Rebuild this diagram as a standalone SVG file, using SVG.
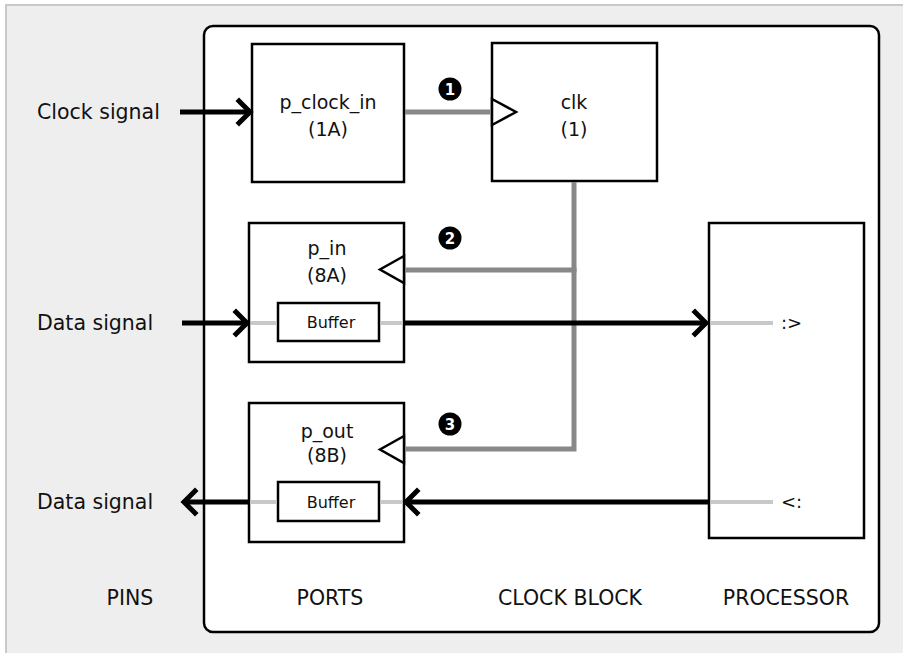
<svg xmlns="http://www.w3.org/2000/svg" width="903" height="653" viewBox="0 0 903 653">
<style>
  .lbl { font-family: "DejaVu Sans", Verdana, sans-serif; font-size: 20.5px; fill: #111; }
  .nl { font-family: "DejaVu Sans", Verdana, sans-serif; font-size: 19px; fill: #111; text-anchor: middle; }
  .buf { font-family: "DejaVu Sans", Verdana, sans-serif; font-size: 16px; fill: #111; text-anchor: middle; }
  .sm { font-family: "DejaVu Sans", Verdana, sans-serif; font-size: 18px; fill: #111; }
  .box { fill: #fff; stroke: #000; stroke-width: 2.5; }
  .clkin { fill: #fff; stroke: #000; stroke-width: 2.5; stroke-linejoin: miter; }
  .blk { stroke: #000; stroke-width: 5; fill: none; }
  .head { stroke: #000; stroke-width: 5; fill: none; stroke-linecap: square; stroke-linejoin: miter; }
  .gry { stroke: #888; stroke-width: 5; fill: none; }
  .lgry { stroke: #c8c8c8; stroke-width: 4; fill: none; }
  .badge { fill: #000; }
  .bn { font-family: "DejaVu Sans", Verdana, sans-serif; font-size: 15px; font-weight: bold; fill: #fff; text-anchor: middle; }
</style>
<rect x="6" y="5" width="1000" height="700" fill="#eeeeee" stroke="#c8c8c8" stroke-width="2"/>
<rect x="204" y="26" width="675" height="606" rx="9" ry="9" fill="#fff" stroke="#000" stroke-width="2.5"/>

<g id="pins">
  <text class="lbl" x="37" y="119">Clock signal</text>
  <text class="lbl" x="37" y="330">Data signal</text>
  <text class="lbl" x="37" y="509">Data signal</text>
</g>

<g id="p_clock_in">
  <rect class="box" x="252" y="44" width="152" height="138"/>
  <text class="nl" x="328" y="109">p_clock_in</text>
  <text class="nl" x="328" y="136">(1A)</text>
</g>

<g id="clk">
  <rect class="box" x="492" y="43" width="165" height="138"/>
  <polygon class="clkin" points="492,99 516,112 492,125"/>
  <text class="nl" x="574" y="109">clk</text>
  <text class="nl" x="574" y="136">(1)</text>
</g>

<g id="p_in">
  <rect class="box" x="249" y="223" width="155" height="139"/>
  <polygon class="clkin" points="404,256 380,269.5 404,283"/>
  <text class="nl" x="327" y="255">p_in</text>
  <text class="nl" x="327" y="282">(8A)</text>
  <rect class="box" x="278" y="303" width="101" height="38"/>
  <text class="buf" x="331" y="328">Buffer</text>
</g>

<g id="p_out">
  <rect class="box" x="249" y="403" width="155" height="139"/>
  <polygon class="clkin" points="404,436 380,449.5 404,463"/>
  <text class="nl" x="327" y="438">p_out</text>
  <text class="nl" x="327" y="462">(8B)</text>
  <rect class="box" x="278" y="482" width="101" height="39"/>
  <text class="buf" x="331" y="508">Buffer</text>
</g>

<g id="processor">
  <rect class="box" x="709" y="223" width="155" height="315"/>
  <text class="sm" x="781" y="329">:&gt;</text>
  <text class="sm" x="781" y="508">&lt;:</text>
</g>

<g id="connectors">
  <line class="gry" x1="405" y1="112" x2="491" y2="112"/>
  <polyline class="gry" points="574,182 574,449 405,449"/>
  <line class="gry" x1="405" y1="270" x2="576.5" y2="270"/>
  <line class="lgry" x1="250.5" y1="323" x2="276.5" y2="323"/>
  <line class="lgry" x1="380.5" y1="323" x2="402.5" y2="323"/>
  <line class="lgry" x1="250.5" y1="502" x2="276.5" y2="502"/>
  <line class="lgry" x1="380.5" y1="502" x2="402.5" y2="502"/>
  <line class="lgry" x1="710.5" y1="323" x2="773" y2="323"/>
  <line class="lgry" x1="710.5" y1="502" x2="773" y2="502"/>
  <line class="blk" x1="180" y1="112" x2="249" y2="112"/>
  <polyline class="head" points="239,101 250,112 239,123"/>
  <line class="blk" x1="182" y1="323" x2="246" y2="323"/>
  <polyline class="head" points="236,312 247,323 236,334"/>
  <line class="blk" x1="405" y1="323" x2="705" y2="323"/>
  <polyline class="head" points="695,312 706,323 695,334"/>
  <line class="blk" x1="708" y1="502" x2="407" y2="502"/>
  <polyline class="head" points="417,491 406,502 417,513"/>
  <line class="blk" x1="248" y1="502" x2="185" y2="502"/>
  <polyline class="head" points="195,491 184,502 195,513"/>
</g>

<g id="badges">
  <circle class="badge" cx="450" cy="89" r="11.5"/>
  <text class="bn" x="450" y="94.5">1</text>
  <circle class="badge" cx="450" cy="238" r="11.5"/>
  <text class="bn" x="450" y="243.5">2</text>
  <circle class="badge" cx="450" cy="424" r="11.5"/>
  <text class="bn" x="450" y="429.5">3</text>
</g>

<g id="section-labels">
  <text class="lbl" x="130" y="605" text-anchor="middle">PINS</text>
  <text class="lbl" x="330" y="605" text-anchor="middle">PORTS</text>
  <text class="lbl" x="570" y="605" text-anchor="middle">CLOCK BLOCK</text>
  <text class="lbl" x="786" y="605" text-anchor="middle">PROCESSOR</text>
</g>
</svg>
